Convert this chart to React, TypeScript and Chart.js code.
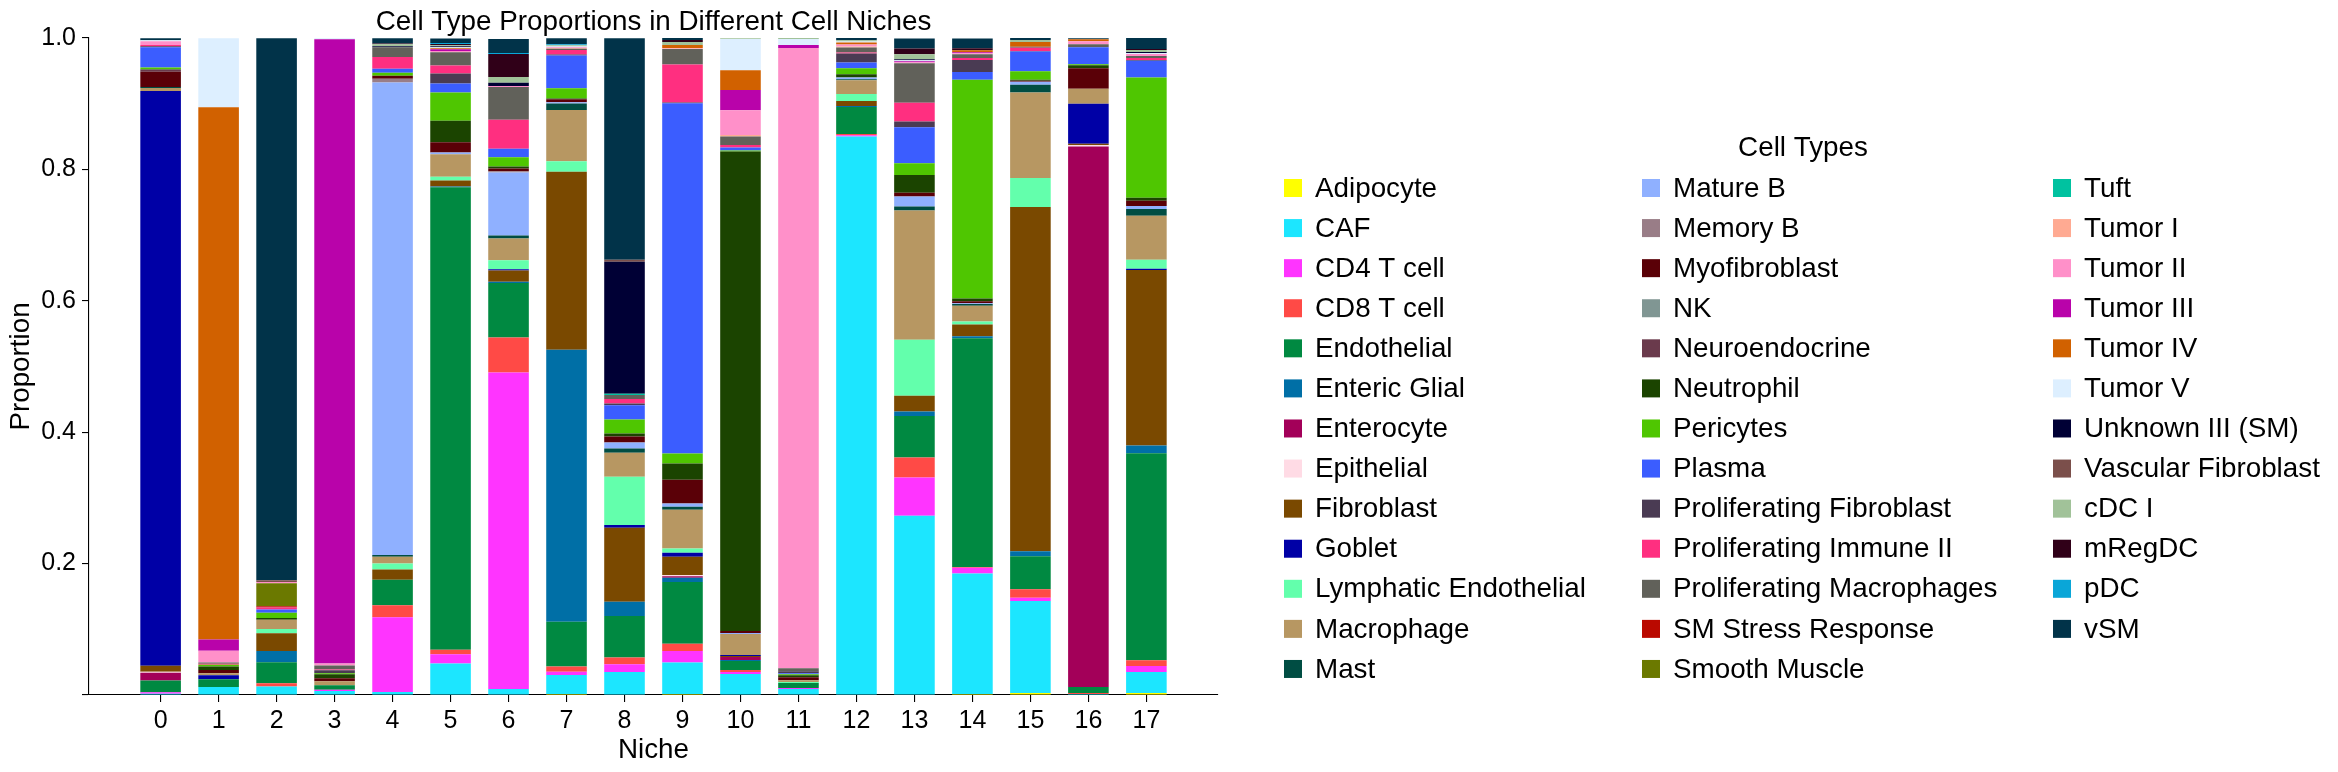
import { useEffect, useRef } from 'react';
import { Chart, registerables } from 'chart.js';

Chart.register(...registerables);

const FONT = "'Liberation Sans', Arial, sans-serif";

const niches = ['0', '1', '2', '3', '4', '5', '6', '7', '8', '9', '10', '11', '12', '13', '14', '15', '16', '17'];

const cellTypes = [
  'Adipocyte', 'CAF', 'CD4 T cell', 'CD8 T cell', 'Endothelial', 'Enteric Glial', 'Enterocyte',
  'Epithelial', 'Fibroblast', 'Goblet', 'Lymphatic Endothelial', 'Macrophage', 'Mast',
  'Mature B', 'Memory B', 'Myofibroblast', 'NK', 'Neuroendocrine', 'Neutrophil', 'Pericytes',
  'Plasma', 'Proliferating Fibroblast', 'Proliferating Immune II', 'Proliferating Macrophages',
  'SM Stress Response', 'Smooth Muscle', 'Tuft', 'Tumor I', 'Tumor II', 'Tumor III', 'Tumor IV',
  'Tumor V', 'Unknown III (SM)', 'Vascular Fibroblast', 'cDC I', 'mRegDC', 'pDC', 'vSM',
];

const cellColors = [
  '#FFFF00', '#1CE6FF', '#FF34FF', '#FF4A46', '#008941', '#006FA6', '#A30059',
  '#FFDBE5', '#7A4900', '#0000A6', '#63FFAC', '#B79762', '#004D43',
  '#8FB0FF', '#997D87', '#5A0007', '#809693', '#6A3A4C', '#1B4400', '#4FC601',
  '#3B5DFF', '#4A3B53', '#FF2F80', '#61615A',
  '#BA0900', '#6B7900', '#00C2A0', '#FFAA92', '#FF90C9', '#B903AA', '#D16100',
  '#DDEFFF', '#000035', '#7B4F4B', '#A1C299', '#300018', '#0AA6D8', '#013349',
];

// Proportion of each cell type per niche (niche 0 .. 17)
const adipocyte = [0, 0, 0, 0, 0, 0, 0, 0.0015, 0, 0.0015, 0, 0, 0, 0, 0.0015, 0.003, 0, 0.003];
const caf = [0.002, 0.012, 0.013, 0.006, 0.0045, 0.048, 0.009, 0.029, 0.035, 0.048, 0.032, 0.009, 0.85, 0.273, 0.1836, 0.14, 0.0015, 0.032];
const cd4T = [0.002, 0, 0, 0.002, 0.114, 0.014, 0.482, 0.005, 0.0117, 0.0176, 0.003, 0.0015, 0.002, 0.058, 0.0085, 0.005, 0, 0.009];
const cd8T = [0, 0, 0.005, 0, 0.018, 0.007, 0.053, 0.008, 0.0104, 0.011, 0.003, 0, 0.002, 0.0306, 0.0013, 0.013, 0.0015, 0.009];
const endothelial = [0.018, 0.012, 0.032, 0.007, 0.039, 0.704, 0.083, 0.068, 0.063, 0.094, 0.0137, 0.0076, 0.041, 0.063, 0.348, 0.05, 0.009, 0.315];
const entericGlial = [0, 0, 0.017, 0, 0, 0.001, 0.002, 0.414, 0.022, 0.0065, 0.0015, 0, 0.0015, 0.007, 0.003, 0.0078, 0, 0.0117];
const enterocyte = [0.012, 0, 0, 0, 0, 0, 0, 0, 0, 0.002, 0.0046, 0, 0, 0, 0, 0, 0.823, 0];
const epithelial = [0.0015, 0, 0, 0, 0, 0, 0, 0, 0, 0.002, 0, 0, 0, 0, 0, 0, 0.002, 0];
const fibroblast = [0.009, 0, 0.027, 0, 0.0156, 0.009, 0.017, 0.271, 0.1126, 0.028, 0.0015, 0, 0.0076, 0.024, 0.018, 0.524, 0.002, 0.267];
const goblet = [0.875, 0.006, 0, 0, 0, 0, 0.002, 0, 0.004, 0.006, 0.0015, 0, 0, 0, 0, 0, 0.061, 0.002];
const lymphaticEndo = [0, 0, 0.0065, 0, 0.009, 0.006, 0.0137, 0.016, 0.0736, 0.0065, 0, 0.0015, 0.0107, 0.085, 0.0046, 0.0443, 0, 0.0137];
const macrophage = [0.0045, 0.003, 0.014, 0.006, 0.0104, 0.034, 0.033, 0.078, 0.0365, 0.059, 0.032, 0.003, 0.021, 0.197, 0.024, 0.13, 0.0228, 0.067];
const mast = [0.0015, 0, 0, 0, 0.0026, 0, 0.0046, 0.0098, 0.0065, 0.0046, 0, 0, 0.0015, 0.006, 0.0026, 0.0117, 0, 0.0104];
const matureB = [0, 0, 0, 0, 0.719, 0.0026, 0.096, 0.002, 0.009, 0.0046, 0.0015, 0, 0.0025, 0.015, 0.0013, 0.0046, 0, 0.0046];
const memoryB = [0, 0, 0, 0, 0.006, 0, 0.002, 0, 0, 0, 0, 0, 0, 0, 0, 0, 0, 0];
const myofibroblast = [0.023, 0.005, 0, 0.0045, 0.0045, 0.0156, 0.004, 0.0046, 0.009, 0.0365, 0.003, 0.0046, 0, 0.006, 0.003, 0.0015, 0.031, 0.0078];
const nk = [0, 0, 0, 0, 0, 0, 0, 0, 0, 0, 0, 0, 0, 0, 0, 0, 0, 0];
const neuroendocrine = [0.003, 0, 0, 0, 0, 0, 0, 0, 0, 0, 0, 0, 0, 0, 0, 0, 0, 0];
const neutrophil = [0.001, 0.0055, 0.0026, 0.006, 0, 0.033, 0.003, 0.001, 0.0046, 0.0247, 0.73, 0.003, 0.005, 0.0267, 0.004, 0.0015, 0.0046, 0.0046];
const pericytes = [0.0025, 0.0025, 0.008, 0.0015, 0.0045, 0.043, 0.0143, 0.0156, 0.0215, 0.015, 0.0013, 0.0015, 0.009, 0.018, 0.333, 0.013, 0.0015, 0.183];
const plasma = [0.031, 0, 0.005, 0, 0.006, 0.0137, 0.013, 0.05, 0.0215, 0.533, 0.0046, 0.0015, 0.009, 0.0547, 0.012, 0.03, 0.026, 0.0254];
const prolifFibroblast = [0.0015, 0, 0, 0.0045, 0, 0.015, 0, 0.0015, 0.0026, 0.0013, 0, 0.003, 0.0137, 0.009, 0.018, 0.001, 0, 0.0015];
const prolifImmuneII = [0.002, 0.0015, 0.003, 0.0015, 0.018, 0.0124, 0.044, 0.0066, 0.007, 0.058, 0.004, 0, 0.0015, 0.0286, 0.003, 0.0046, 0, 0.003];
const prolifMacrophages = [0, 0.002, 0, 0.006, 0.015, 0.02, 0.05, 0.002, 0.006, 0.0234, 0.013, 0.0046, 0.0076, 0.06, 0.006, 0.0015, 0.0046, 0.003];
const smStress = [0, 0, 0.002, 0, 0, 0, 0, 0, 0, 0, 0, 0, 0, 0, 0, 0, 0, 0];
const smoothMuscle = [0, 0, 0.035, 0, 0, 0, 0, 0, 0, 0, 0, 0, 0, 0, 0, 0, 0, 0];
const tuft = [0, 0, 0, 0, 0, 0, 0, 0, 0.002, 0, 0, 0, 0, 0, 0, 0, 0, 0];
const tumorI = [0, 0, 0, 0, 0, 0, 0, 0.001, 0, 0.0007, 0.002, 0, 0.0015, 0, 0, 0, 0, 0];
const tumorII = [0.0055, 0.018, 0.002, 0.003, 0, 0.002, 0.0015, 0.0015, 0, 0.0008, 0.038, 0.944, 0.003, 0.0015, 0.0015, 0, 0.0046, 0.003];
const tumorIII = [0, 0.017, 0, 0.95, 0, 0.0025, 0, 0, 0, 0, 0.0306, 0.0046, 0, 0.0015, 0.0015, 0, 0, 0];
const tumorIV = [0, 0.81, 0, 0, 0, 0.0015, 0, 0, 0, 0.0046, 0.03, 0, 0.003, 0, 0.003, 0.0076, 0.003, 0];
const tumorV = [0.0015, 0.105, 0, 0.0015, 0, 0.0015, 0, 0.001, 0, 0, 0.0475, 0.009, 0.0015, 0.0015, 0, 0, 0, 0.0015];
const unknownIII = [0, 0, 0, 0, 0.0015, 0.0015, 0.0046, 0, 0.201, 0, 0, 0, 0, 0.0015, 0, 0, 0, 0.0015];
const vascularFibroblast = [0, 0, 0.0026, 0, 0, 0, 0, 0, 0.003, 0, 0, 0, 0, 0, 0, 0, 0, 0];
const cdc1 = [0, 0, 0, 0, 0.003, 0.0015, 0.009, 0.002, 0, 0.0046, 0.0013, 0.0015, 0.002, 0.0076, 0, 0.003, 0, 0.003];
const mRegDC = [0, 0, 0, 0, 0.001, 0.002, 0.035, 0, 0, 0.003, 0, 0, 0, 0.009, 0.003, 0, 0, 0.0015];
const pdc = [0, 0, 0, 0, 0, 0.0015, 0.0015, 0.0015, 0, 0, 0, 0, 0, 0, 0, 0, 0, 0];
const vsm = [0.003, 0, 0.825, 0, 0.008, 0.007, 0.0213, 0.009, 0.337, 0.003, 0, 0, 0.004, 0.0152, 0.015, 0.003, 0.0015, 0.0167];

const proportionsByType = [
  adipocyte, caf, cd4T, cd8T, endothelial, entericGlial, enterocyte, epithelial, fibroblast, goblet,
  lymphaticEndo, macrophage, mast, matureB, memoryB, myofibroblast, nk, neuroendocrine, neutrophil,
  pericytes, plasma, prolifFibroblast, prolifImmuneII, prolifMacrophages, smStress, smoothMuscle, tuft,
  tumorI, tumorII, tumorIII, tumorIV, tumorV, unknownIII, vascularFibroblast, cdc1, mRegDC, pdc, vsm,
];

const yTicks = [0, 0.2, 0.4, 0.6, 0.8, 1.0];

const TITLE = 'Cell Type Proportions in Different Cell Niches';
const LEGEND_TITLE = 'Cell Types';

// Title above the plot and a three-column legend to its right
const decorations = {
  id: 'decorations',
  afterDraw(chart: any) {
    const { ctx, chartArea } = chart;
    ctx.save();
    ctx.fillStyle = '#000';
    ctx.font = `27.8px ${FONT}`;
    ctx.textAlign = 'center';
    ctx.textBaseline = 'alphabetic';
    ctx.fillText(TITLE, (chartArea.left + chartArea.right) / 2, 30);

    ctx.textBaseline = 'middle';
    ctx.fillText(LEGEND_TITLE, 1803, 148);

    const colX = [1284, 1642, 2053];
    const rowsPerCol = 13;
    const rowY0 = 188;
    const rowStep = 40.08;
    const box = 18;
    ctx.textAlign = 'left';
    cellTypes.forEach((name, k) => {
      const col = Math.floor(k / rowsPerCol);
      const row = k % rowsPerCol;
      const x = colX[col];
      const y = rowY0 + row * rowStep;
      ctx.fillStyle = cellColors[k];
      ctx.fillRect(x, y - box / 2, box, box);
      ctx.fillStyle = '#000';
      ctx.fillText(name, x + 31, y + 1);
    });
    ctx.restore();
  },
};

export default function App() {
  const canvasRef = useRef<HTMLCanvasElement | null>(null);

  useEffect(() => {
    const canvas = canvasRef.current;
    if (!canvas) return;

    const datasets = cellTypes.map((name, k) => ({
      label: name,
      data: niches.map((_, i) => ({ x: i, y: proportionsByType[k][i] })),
      backgroundColor: cellColors[k],
      borderWidth: 0,
      barPercentage: 0.7,
      categoryPercentage: 1,
    }));

    const chart = new Chart(canvas, {
      type: 'bar',
      data: { datasets },
      plugins: [decorations],
      options: {
        responsive: false,
        animation: false,
        devicePixelRatio: 1,
        events: [],
        layout: { padding: { left: 0, top: 38, right: 2338 - 1218, bottom: 0 } },
        plugins: {
          legend: { display: false },
          title: { display: false },
          tooltip: { enabled: false },
        },
        scales: {
          x: {
            type: 'linear',
            stacked: true,
            offset: false,
            min: -1.235,
            max: 18.235,
            afterBuildTicks: (axis: any) => {
              axis.ticks = niches.map((_, i) => ({ value: i }));
            },
            afterFit: (axis: any) => {
              axis.height = 77;
            },
            ticks: {
              autoSkip: false,
              maxRotation: 0,
              padding: 4,
              color: '#000',
              font: { size: 25, family: FONT },
              callback: (v: any) => niches[v] ?? '',
            },
            grid: {
              display: true,
              offset: false,
              drawOnChartArea: false,
              drawTicks: true,
              tickLength: 7,
              color: '#000',
              lineWidth: 1.1,
            },
            border: { display: true, color: '#000', width: 1.1 },
            title: {
              display: true,
              text: 'Niche',
              color: '#000',
              font: { size: 27.8, family: FONT },
              padding: { top: 0, bottom: 4.5 },
            },
          },
          y: {
            type: 'linear',
            stacked: true,
            min: 0,
            max: 1,
            afterBuildTicks: (axis: any) => {
              axis.ticks = yTicks.map((v) => ({ value: v }));
            },
            afterFit: (axis: any) => {
              axis.width = 89;
            },
            ticks: {
              padding: 6,
              color: '#000',
              font: { size: 25, family: FONT },
              callback: (v: any) => (Number(v) === 0 ? '' : Number(v).toFixed(1)),
            },
            grid: {
              display: true,
              drawOnChartArea: false,
              drawTicks: true,
              tickLength: 7,
              color: '#000',
              lineWidth: 1.1,
            },
            border: { display: true, color: '#000', width: 1.1 },
            title: {
              display: true,
              text: 'Proportion',
              color: '#000',
              font: { size: 27.8, family: FONT },
              padding: { top: 5, bottom: 0 },
            },
          },
        },
      } as any,
    });

    return () => chart.destroy();
  }, []);

  return (
    <div style={{ position: 'fixed', left: 0, top: 0, width: 2338, height: 772, background: '#fff' }}>
      <canvas ref={canvasRef} width={2338} height={772} style={{ width: 2338, height: 772 }} />
    </div>
  );
}
